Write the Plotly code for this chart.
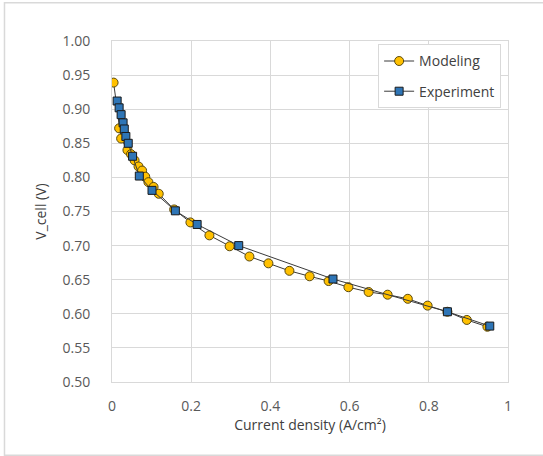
import plotly.graph_objects as go

# Polarization curve: modelled vs measured cell voltage
model_j = [0.004, 0.018, 0.023, 0.039, 0.048, 0.057, 0.067, 0.076, 0.084, 0.092,
           0.105, 0.118, 0.157, 0.198, 0.246, 0.297, 0.347, 0.395, 0.448, 0.499,
           0.547, 0.597, 0.648, 0.696, 0.747, 0.797, 0.847, 0.896, 0.948]
model_v = [0.939, 0.872, 0.857, 0.840, 0.834, 0.825, 0.816, 0.810, 0.801, 0.793,
           0.786, 0.776, 0.753, 0.734, 0.715, 0.699, 0.684, 0.674, 0.663, 0.655,
           0.648, 0.639, 0.632, 0.628, 0.622, 0.612, 0.603, 0.591, 0.581]

exp_j = [0.013, 0.018, 0.023, 0.028, 0.031, 0.035, 0.041, 0.052, 0.069, 0.101,
         0.160, 0.215, 0.320, 0.558, 0.847, 0.954]
exp_v = [0.912, 0.902, 0.892, 0.880, 0.871, 0.860, 0.850, 0.831, 0.802, 0.781,
         0.751, 0.731, 0.700, 0.651, 0.603, 0.582]

x_ticks = [0, 0.2, 0.4, 0.6, 0.8, 1]
x_tick_text = ["0", "0.2", "0.4", "0.6", "0.8", "1"]
y_ticks = [0.50, 0.55, 0.60, 0.65, 0.70, 0.75, 0.80, 0.85, 0.90, 0.95, 1.00]

FONT = "Open Sans, DejaVu Sans, sans-serif"
GRID = "#d9d9d9"
TEXT = "#595959"

fig = go.Figure()
fig.add_trace(go.Scatter(
    x=model_j, y=model_v, mode="lines+markers", name="Modeling",
    legendgroup="model",
    line=dict(color="#3a3a3a", width=1),
    marker=dict(symbol="circle", size=9, color="#FFC000",
                line=dict(color="#5a4a10", width=1)),
))
fig.add_trace(go.Scatter(
    x=exp_j, y=exp_v, mode="lines+markers", name="Experiment",
    legendgroup="exp",
    line=dict(color="#3a3a3a", width=1),
    marker=dict(symbol="square", size=8, color="#2E75B6",
                line=dict(color="#1a1a1a", width=1)),
))

fig.update_layout(
    width=543, height=456,
    margin=dict(l=112, r=35, t=41, b=74),
    paper_bgcolor="white", plot_bgcolor="white",
    font=dict(family=FONT, size=14, color=TEXT),
    showlegend=True,
    legend=dict(
        x=0.672, y=0.99, xanchor="left", yanchor="top",
        bgcolor="white", bordercolor=GRID, borderwidth=1,
        font=dict(family=FONT, size=14, color="#404040"),
        itemwidth=30, tracegroupgap=9, traceorder="grouped",
    ),
    xaxis=dict(
        range=[0, 1], tickvals=x_ticks, ticktext=x_tick_text,
        showgrid=True, gridcolor=GRID, gridwidth=1, zeroline=False,
        showline=True, linecolor=GRID, linewidth=1, mirror=True,
        ticks="", ticklabelstandoff=11,
        title=dict(text="Current density (A/cm²)", standoff=6,
                   font=dict(family=FONT, size=14, color="#404040")),
    ),
    yaxis=dict(
        range=[0.5, 1.0], tickvals=y_ticks, tickformat=".2f",
        showgrid=True, gridcolor=GRID, gridwidth=1, zeroline=False,
        showline=True, linecolor=GRID, linewidth=1, mirror=True,
        ticks="", ticklabelstandoff=18,
        title=dict(text="V_cell (V)", standoff=12,
                   font=dict(family=FONT, size=14, color="#404040")),
    ),
    shapes=[dict(
        type="rect", xref="paper", yref="paper",
        x0=-0.2715, x1=1.093, y0=-0.215, y1=1.112,
        line=dict(color=GRID, width=1.5), fillcolor="rgba(0,0,0,0)", layer="below",
    )],
)

fig.write_html("out.html")
